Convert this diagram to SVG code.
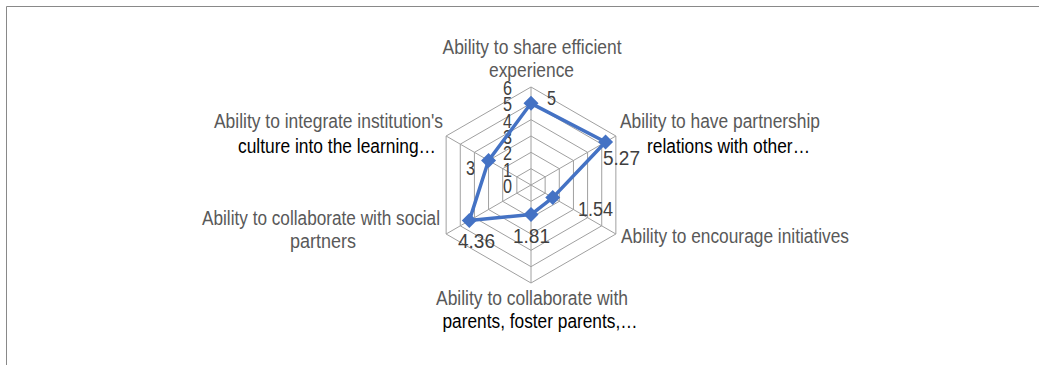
<svg xmlns="http://www.w3.org/2000/svg" width="1039" height="365" viewBox="0 0 1039 365">
<style>
.lbl{font-family:"Liberation Sans",Arial,sans-serif;font-size:20px;fill:#595959;text-anchor:middle}
.dk{fill:#000}
.num{font-family:"Liberation Sans",Arial,sans-serif;font-size:19.5px;fill:#404040}
.grid{fill:none;stroke:#a0a0a0;stroke-width:1}
</style>
<defs>
<path id="dm" d="M0,-7.5 L7.5,0 L0,7.5 L-7.5,0 Z" fill="#4472C4"/>
</defs>
<rect width="1039" height="365" fill="#fff"/>
<path d="M6.5,365 L6.5,6.5 L1039,6.5" fill="none" stroke="#898989" stroke-width="1"/>
<g id="grid">
<polygon class="grid" points="531,168.67 545.14,176.83 545.14,193.17 531,201.33 516.86,193.17 516.86,176.83"/>
<polygon class="grid" points="531,152.33 559.29,168.67 559.29,201.33 531,217.67 502.71,201.33 502.71,168.67"/>
<polygon class="grid" points="531,136 573.44,160.5 573.44,209.5 531,234 488.56,209.5 488.56,160.5"/>
<polygon class="grid" points="531,119.67 587.58,152.33 587.58,217.67 531,250.33 474.42,217.67 474.42,152.33"/>
<polygon class="grid" points="531,103.33 601.73,144.17 601.73,225.83 531,266.67 460.27,225.83 460.27,144.17"/>
<polygon class="grid" points="531,87 615.87,136 615.87,234 531,283 446.13,234 446.13,136"/>
<path class="grid" d="M531,185 L531,87 M531,185 L615.87,136 M531,185 L615.87,234 M531,185 L531,283 M531,185 L446.13,234 M531,185 L446.13,136"/>
</g>
<g id="axis-values" class="num" text-anchor="end">
<text x="512" y="193" textLength="9" lengthAdjust="spacingAndGlyphs">0</text>
<text x="512" y="176.7" textLength="9" lengthAdjust="spacingAndGlyphs">1</text>
<text x="512" y="160.3" textLength="9" lengthAdjust="spacingAndGlyphs">2</text>
<text x="512" y="144" textLength="9" lengthAdjust="spacingAndGlyphs">3</text>
<text x="512" y="127.7" textLength="9" lengthAdjust="spacingAndGlyphs">4</text>
<text x="512" y="111.3" textLength="9" lengthAdjust="spacingAndGlyphs">5</text>
<text x="512" y="95" textLength="9" lengthAdjust="spacingAndGlyphs">6</text>
</g>
<g id="series">
<polygon points="531,103.33 605.55,141.96 552.78,197.58 531,214.56 469.3,220.6 488.56,160.5" fill="none" stroke="#4472C4" stroke-width="3.5" stroke-linejoin="round"/>
<use href="#dm" x="531" y="103.33"/>
<use href="#dm" x="605.55" y="141.96"/>
<use href="#dm" x="552.78" y="197.58"/>
<use href="#dm" x="531" y="214.56"/>
<use href="#dm" x="469.3" y="220.6"/>
<use href="#dm" x="488.56" y="160.5"/>
</g>
<g id="data-labels" class="num">
<text x="547" y="105" textLength="9" lengthAdjust="spacingAndGlyphs">5</text>
<text x="603" y="165" textLength="37" lengthAdjust="spacingAndGlyphs">5.27</text>
<text x="578" y="216" textLength="35" lengthAdjust="spacingAndGlyphs">1.54</text>
<text x="513" y="243" textLength="37" lengthAdjust="spacingAndGlyphs">1.81</text>
<text x="458" y="248" textLength="37" lengthAdjust="spacingAndGlyphs">4.36</text>
<text x="466" y="175" textLength="9" lengthAdjust="spacingAndGlyphs">3</text>
</g>
<g id="n-share">
<text class="lbl" x="532" y="54" textLength="179" lengthAdjust="spacingAndGlyphs">Ability to share efficient</text>
<text class="lbl" x="531.5" y="77" textLength="85" lengthAdjust="spacingAndGlyphs">experience</text>
</g>
<g id="n-partnership">
<text class="lbl" x="720" y="128" textLength="200" lengthAdjust="spacingAndGlyphs">Ability to have partnership</text>
<text class="lbl dk" x="728.5" y="153" textLength="163" lengthAdjust="spacingAndGlyphs">relations with other…</text>
</g>
<g id="n-initiatives">
<text class="lbl" x="735" y="243" textLength="228" lengthAdjust="spacingAndGlyphs">Ability to encourage initiatives</text>
</g>
<g id="n-parents">
<text class="lbl" x="532" y="305" textLength="192" lengthAdjust="spacingAndGlyphs">Ability to collaborate with</text>
<text class="lbl dk" x="540" y="328" textLength="195" lengthAdjust="spacingAndGlyphs">parents, foster parents,…</text>
</g>
<g id="n-social">
<text class="lbl" x="321" y="225" textLength="238" lengthAdjust="spacingAndGlyphs">Ability to collaborate with social</text>
<text class="lbl" x="323" y="248" textLength="66" lengthAdjust="spacingAndGlyphs">partners</text>
</g>
<g id="n-culture">
<text class="lbl" x="328.5" y="128" textLength="229" lengthAdjust="spacingAndGlyphs">Ability to integrate institution's</text>
<text class="lbl dk" x="337" y="153" textLength="198" lengthAdjust="spacingAndGlyphs">culture into the learning…</text>
</g>
</svg>
